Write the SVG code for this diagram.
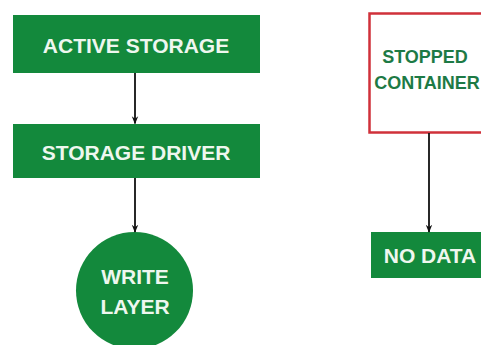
<svg xmlns="http://www.w3.org/2000/svg" width="481" height="345" viewBox="0 0 481 345">
  <style>
    .box { fill: #13893c; }
    .frame { fill: #ffffff; stroke: #d0313a; stroke-width: 2.5; }
    .label { font-family: "Liberation Sans", Arial, sans-serif; font-weight: bold; font-size: 21px; fill: #eef7ef; text-anchor: middle; }
    .dark { font-family: "Liberation Sans", Arial, sans-serif; font-weight: bold; font-size: 18px; fill: #1d7a45; text-anchor: middle; }
    .link { stroke: #111111; stroke-width: 1.8; fill: none; }
  </style>
  <defs>
    <marker id="arrow" viewBox="0 0 10 10" refX="9" refY="5" markerWidth="8" markerHeight="8" orient="auto" markerUnits="userSpaceOnUse">
      <path d="M0,1 L10,5 L0,9 L3,5 Z" fill="#111111"/>
    </marker>
  </defs>
  <rect width="481" height="345" fill="#ffffff"/>

  <g id="active-storage">
    <rect class="box" x="13" y="15" width="247" height="58"/>
    <text class="label" x="136" y="53">ACTIVE STORAGE</text>
  </g>

  <g id="storage-driver">
    <rect class="box" x="13" y="124" width="247" height="54"/>
    <text class="label" x="136" y="160">STORAGE DRIVER</text>
  </g>

  <g id="write-layer">
    <circle class="box" cx="134.5" cy="290.5" r="58.5"/>
    <text class="label" x="135" y="284">WRITE</text>
    <text class="label" x="135" y="314">LAYER</text>
  </g>

  <g id="stopped-container">
    <rect class="frame" x="369.5" y="13.5" width="130" height="119"/>
    <text class="dark" x="425" y="63">STOPPED</text>
    <text class="dark" x="427" y="89">CONTAINER</text>
  </g>

  <g id="no-data">
    <rect class="box" x="371" y="232" width="130" height="46"/>
    <text class="label" x="430" y="263">NO DATA</text>
  </g>

  <g id="connectors">
    <line class="link" x1="135" y1="73" x2="135" y2="123.5" marker-end="url(#arrow)"/>
    <line class="link" x1="135" y1="178" x2="135" y2="232" marker-end="url(#arrow)"/>
    <line class="link" x1="429" y1="133" x2="429" y2="232" marker-end="url(#arrow)"/>
  </g>
</svg>
